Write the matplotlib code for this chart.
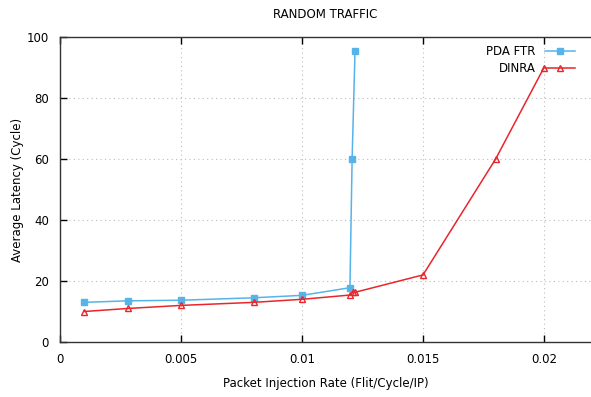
import matplotlib
matplotlib.use("Agg")
import matplotlib.pyplot as plt

pda_x = [0.001, 0.0028, 0.005, 0.008, 0.010, 0.01198, 0.01207, 0.01219]
pda_y = [13.0, 13.5, 13.7, 14.5, 15.3, 17.8, 60.0, 95.5]
dinra_x = [0.001, 0.0028, 0.005, 0.008, 0.010, 0.01198, 0.01209, 0.01219, 0.015, 0.018, 0.020]
dinra_y = [10.0, 11.0, 12.0, 13.0, 14.0, 15.4, 16.3, 16.3, 22.0, 60.0, 90.0]

xticks = [0, 0.005, 0.01, 0.015, 0.02]
xticklabels = ["0", "0.005", "0.01", "0.015", "0.02"]
yticks = [0, 20, 40, 60, 80, 100]

plt.rcParams['font.family'] = ['DejaVu Sans']
fig = plt.figure(figsize=(5.91, 3.97), dpi=100)
ax = fig.add_axes([0.1015, 0.1385, 0.8985, 0.7683])

ax.plot(pda_x, pda_y, color='#56b4e9', marker='s', markersize=5, linewidth=1.1,
        label='PDA FTR', clip_on=False, zorder=3)
ax.plot(dinra_x, dinra_y, color='#e8262c', marker='^', markersize=5,
        markerfacecolor='none', markeredgewidth=1.0, linewidth=1.1,
        label='DINRA', clip_on=False, zorder=3)

ax.set_xlim(0, 0.02194)
ax.set_ylim(0, 100)
ax.set_xticks(xticks)
ax.set_xticklabels(xticklabels)
ax.set_yticks(yticks)
ax.grid(True, linestyle=(0, (1, 3)), color='#bbbbbb', linewidth=0.8)
ax.tick_params(direction='in', top=True, right=False, labelsize=8.5, length=5, width=1, pad=8)
for s in ['left', 'bottom', 'top']:
    ax.spines[s].set_linewidth(1.0)
    ax.spines[s].set_color('#333333')
ax.spines['right'].set_visible(False)

ax.set_title('RANDOM TRAFFIC', fontsize=8.5, pad=14)
ax.set_xlabel('Packet Injection Rate (Flit/Cycle/IP)', fontsize=8.5, labelpad=8)
ax.set_ylabel('Average Latency (Cycle)', fontsize=8.5, labelpad=2)

leg = ax.legend(loc='upper right', frameon=False, markerfirst=False, fontsize=8.5,
                handlelength=2.5, borderaxespad=0.3, labelspacing=0.3,
                bbox_to_anchor=(0.985, 1.0))

fig.savefig('out.png', dpi=100)
